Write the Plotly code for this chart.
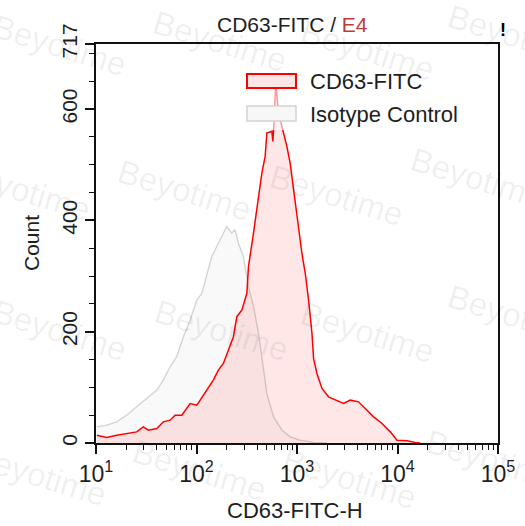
import plotly.graph_objects as go

# ---------------- data ----------------
cd63_x = [10.2, 12.8, 16.1, 20.2, 25.4, 29.6, 33.2, 40.3, 46.8, 54.6, 61.2, 71.4, 86.5, 100.8,
          117, 131, 147, 165, 185, 208, 233, 252, 283, 317, 329, 369, 414, 447, 482, 501,
          562, 575, 593, 614, 655, 735, 793, 855, 923, 1021, 1119, 1208, 1304, 1409, 1462,
          1579, 1772, 2060, 2496, 2903, 3387, 4100, 4779, 5778, 7012, 8478, 9886, 12450,
          15030, 16860]
cd63_count = [14, 10, 14, 17, 20, 29, 23, 26, 38, 41, 50, 50, 71, 68,
              86, 101, 113, 131, 143, 167, 191, 227, 239, 269, 317, 377, 437, 485, 515, 557,
              560, 542, 581, 646, 593, 557, 533, 503, 455, 389, 341, 305, 257, 197, 152,
              125, 98, 83, 77, 71, 77, 74, 62, 47, 35, 20, 5, 4,
              1, 0]

iso_x = [10.2, 12.8, 16.1, 20.2, 25.4, 32.0, 40.3, 46.8, 54.6, 63.6, 74.1, 86.5, 100.8, 113,
         127, 142, 159, 179, 200, 224, 242, 261, 293, 329, 369, 414, 464, 501, 584, 710,
         855, 1074, 1462, 1987]
iso_count = [29, 32, 38, 50, 65, 80, 95, 113, 137, 155, 191, 221, 257, 269,
             305, 335, 353, 371, 389, 377, 383, 359, 335, 281, 245, 197, 137, 89, 47, 23,
             11, 5, 1, 0]

series_names = ["CD63-FITC", "Isotype Control"]
x_tick_vals = [10, 100, 1000, 10000, 100000]
x_tick_text = ["10<sup>1</sup>", "10<sup>2</sup>", "10<sup>3</sup>", "10<sup>4</sup>", "10<sup>5</sup>"]
y_tick_vals = [0, 200, 400, 600, 717]
y_tick_text = ["0", "200", "400", "600", "717"]

# ---------------- layout geometry ----------------
W, H = 525, 526
L, R, T, B = 96, 27, 44, 83
PW = W - L - R
PH = H - T - B


def px(x):
    return (x - L) / PW


def py(y):
    return (H - B - y) / PH


FONT = "Liberation Sans, Arial, sans-serif"
TXT = "#1e1e1e"

minor_x = [m * 10 ** k for k in range(1, 5) for m in range(2, 10)]

fig = go.Figure()
fig.add_trace(go.Scatter(
    x=iso_x, y=iso_count, mode="lines", name=series_names[1],
    line=dict(color="#d4d4d4", width=1.4), fill="tozeroy",
    fillcolor="rgba(0,0,0,0.025)", showlegend=False))
fig.add_trace(go.Scatter(
    x=cd63_x, y=cd63_count, mode="lines", name=series_names[0],
    line=dict(color="#ff0000", width=1.5), fill="tozeroy",
    fillcolor="rgba(255,0,0,0.095)", showlegend=False))

fig.update_layout(
    width=W, height=H,
    margin=dict(l=L, r=R, t=T, b=B, autoexpand=False),
    paper_bgcolor="white", plot_bgcolor="white",
    font=dict(family=FONT, color=TXT),
    showlegend=False,
)
fig.update_xaxes(
    type="log", range=[1, 5], tickvals=x_tick_vals, ticktext=x_tick_text,
    ticks="outside", ticklen=9, tickwidth=1.5, tickcolor="#111",
    showline=True, linewidth=2, linecolor="#111", mirror=True,
    showgrid=False, zeroline=False, tickfont=dict(size=23, color=TXT),
    minor=dict(tickvals=minor_x, ticks="outside", ticklen=5, tickwidth=1, tickcolor="#111", showgrid=False),
)
fig.update_yaxes(
    range=[0, 717], tickvals=y_tick_vals, ticktext=y_tick_text, tickangle=-90,
    ticks="outside", ticklen=9, tickwidth=1.5, tickcolor="#111",
    showline=True, linewidth=2, linecolor="#111", mirror=True,
    showgrid=False, zeroline=False, tickfont=dict(size=21, color=TXT),
    minor=dict(dtick=50, ticks="outside", ticklen=5, tickwidth=1, tickcolor="#111", showgrid=False),
)

ann = []
# watermark
wm_pos = [(60, 45), (220, 42), (368, 50), (515, 35),
          (24, 190), (185, 190), (337, 195), (478, 178),
          (60, 330), (222, 330), (368, 332), (515, 315),
          (40, 475), (200, 470), (350, 478), (493, 460)]
for (wx, wy) in wm_pos:
    ann.append(dict(x=px(wx), y=py(wy), xref="paper", yref="paper", text="Beyotime",
                    showarrow=False, textangle=17, xanchor="center", yanchor="middle",
                    font=dict(size=33, color="rgba(0,0,0,0.065)", family=FONT)))
# title
ann.append(dict(x=px(292), y=py(24), xref="paper", yref="paper", showarrow=False,
                text="CD63-FITC / <span style='color:#c03a3a'>E4</span>",
                xanchor="center", yanchor="middle", font=dict(size=21, color=TXT)))
# axis titles
ann.append(dict(x=px(295), y=py(510), xref="paper", yref="paper", showarrow=False,
                text="CD63-FITC-H", xanchor="center", yanchor="middle",
                font=dict(size=22, color=TXT)))
ann.append(dict(x=px(31), y=py(243), xref="paper", yref="paper", showarrow=False,
                text="Count", textangle=-90, xanchor="center", yanchor="middle",
                font=dict(size=21, color=TXT)))
# exclamation mark
ann.append(dict(x=px(503), y=py(30), xref="paper", yref="paper", showarrow=False,
                text="<b>!</b>", xanchor="center", yanchor="middle",
                font=dict(size=18, color="#000")))
# legend labels
ann.append(dict(x=px(308), y=py(81), xref="paper", yref="paper", showarrow=False,
                text=series_names[0], xanchor="left", yanchor="middle",
                font=dict(size=22, color=TXT)))
ann.append(dict(x=px(308), y=py(114), xref="paper", yref="paper", showarrow=False,
                text=series_names[1], xanchor="left", yanchor="middle",
                font=dict(size=22, color=TXT)))

shapes = [
    dict(type="rect", xref="paper", yref="paper", x0=px(240), x1=px(466), y0=py(66), y1=py(130),
         fillcolor="rgba(255,255,255,0.6)", line=dict(width=0), layer="above"),
    dict(type="rect", xref="paper", yref="paper", x0=px(247), x1=px(296), y0=py(74), y1=py(88),
         fillcolor="#fde6e6", line=dict(color="#ff0000", width=2), layer="above"),
    dict(type="rect", xref="paper", yref="paper", x0=px(247), x1=px(296), y0=py(106), y1=py(121),
         fillcolor="#f7f7f7", line=dict(color="#d4d4d4", width=1.5), layer="above"),
]
fig.update_layout(annotations=ann, shapes=shapes)

fig.write_html("out.html", config={"displayModeBar": False},
               post_script="document.body.style.margin='0px';document.body.style.padding='0px';")
